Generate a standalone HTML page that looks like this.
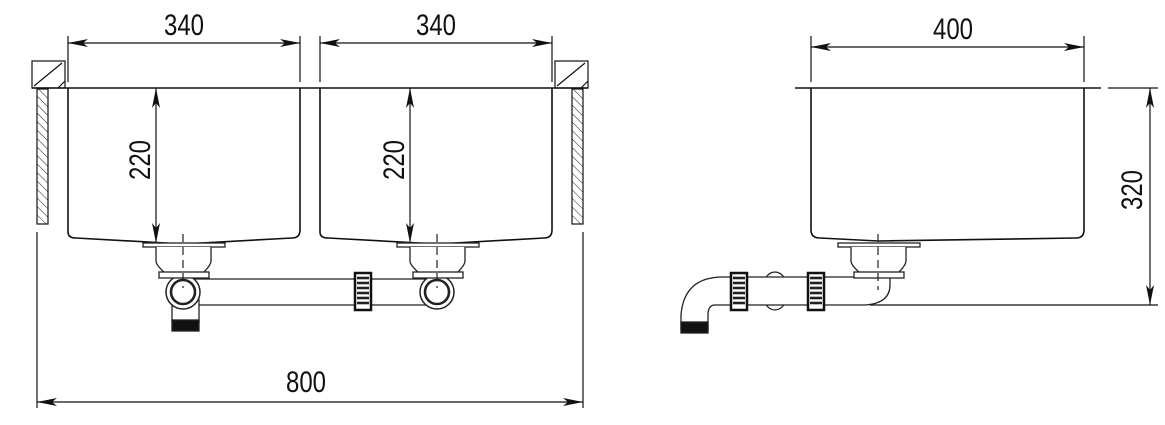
<!DOCTYPE html>
<html><head><meta charset="utf-8"><style>
html,body{margin:0;padding:0;background:#fff;}
svg{display:block;}
text{font-family:"Liberation Sans",sans-serif;font-size:30px;fill:#111;}
</style></head><body>
<svg width="1165" height="425" viewBox="0 0 1165 425" xmlns="http://www.w3.org/2000/svg">
<defs>
<pattern id="h" width="6" height="6" patternUnits="userSpaceOnUse" patternTransform="rotate(-45)">
<line x1="0" y1="0" x2="0" y2="6" stroke="#222" stroke-width="1"/>
</pattern>
<marker id="a" viewBox="0 0 20 8" refX="20" refY="4" markerWidth="20" markerHeight="8" markerUnits="userSpaceOnUse" orient="auto-start-reverse">
<path d="M0,0 L20,4 L0,8 L5,4 Z" fill="#111"/>
</marker>
<g id="drain">
<rect x="-40" y="0" width="82" height="4" fill="#fff" stroke="#222" stroke-width="1.3"/>
<path d="M-27,4 V18 Q-27,22 -18,30 H20 Q28,22 28,18 V4" fill="#fff" stroke="#222" stroke-width="1.3"/>
<rect x="-24" y="29" width="50" height="6" fill="#fff" stroke="#222" stroke-width="1.3"/>
</g>
<g id="nut">
<rect x="0" y="0" width="16" height="37" fill="#fff" stroke="#111" stroke-width="2.5"/>
<g stroke="#222" stroke-width="2.6">
<line x1="2" y1="5" x2="14" y2="5"/><line x1="2" y1="10" x2="14" y2="10"/><line x1="2" y1="15" x2="14" y2="15"/><line x1="2" y1="20" x2="14" y2="20"/><line x1="2" y1="25" x2="14" y2="25"/><line x1="2" y1="30" x2="14" y2="30"/>
</g>
</g>
</defs>
<g fill="none" stroke="#111" stroke-width="1.2">
<line x1="68" y1="36" x2="68" y2="82"/><line x1="300" y1="36" x2="300" y2="82"/>
<line x1="320" y1="36" x2="320" y2="82"/><line x1="552" y1="36" x2="552" y2="82"/>
<line x1="68" y1="43" x2="300" y2="43" marker-start="url(#a)" marker-end="url(#a)"/>
<line x1="320" y1="43" x2="552" y2="43" marker-start="url(#a)" marker-end="url(#a)"/>
<line x1="32" y1="88" x2="588" y2="88" stroke-width="1.5"/>
<rect x="32" y="61" width="33" height="27"/><line x1="34" y1="86" x2="62" y2="63"/><line x1="58" y1="88" x2="65" y2="81"/>
<rect x="555" y="61" width="33" height="27"/><line x1="557" y1="86" x2="585" y2="63"/><line x1="581" y1="88" x2="588" y2="81"/>
<rect x="37" y="89" width="11" height="135" fill="url(#h)"/>
<rect x="572" y="89" width="11" height="135" fill="url(#h)"/>
<path d="M68,88 V232 Q68,238 76,238 Q183,244 183,244 Q292,238 292,238 Q300,238 300,230 V88" stroke-width="1.6"/>
<path d="M320,88 V232 Q320,238 328,238 Q437,244 437,244 Q544,238 544,238 Q552,238 552,230 V88" stroke-width="1.6"/>
<line x1="156" y1="88" x2="156" y2="243" marker-start="url(#a)" marker-end="url(#a)"/>
<line x1="410" y1="88" x2="410" y2="243" marker-start="url(#a)" marker-end="url(#a)"/>
<line x1="37" y1="232" x2="37" y2="408"/><line x1="583" y1="232" x2="583" y2="408"/>
<line x1="37" y1="402" x2="583" y2="402" marker-start="url(#a)" marker-end="url(#a)"/>
</g>
<g fill="#fff" stroke="#222" stroke-width="1.3">
<path d="M183,279 H437 M183,305 H437"/>
<rect x="172" y="300" width="27" height="22"/>
<rect x="172" y="320" width="27" height="11" fill="#111"/>
<circle cx="183" cy="292" r="17" stroke-width="1.5"/><circle cx="183" cy="292" r="12" stroke-width="2.6"/>
<circle cx="437" cy="292" r="17" stroke-width="1.5"/><circle cx="437" cy="292" r="12" stroke-width="2.6"/>
</g>
<use href="#drain" x="183" y="243"/>
<use href="#drain" x="437" y="243"/>
<use href="#nut" x="355" y="273"/>
<g stroke="#222" stroke-width="1.2" stroke-dasharray="8,5"><line x1="183" y1="234" x2="183" y2="288"/><line x1="437" y1="234" x2="437" y2="288"/></g>
<g fill="none" stroke="#111" stroke-width="1.2">
<line x1="811" y1="36" x2="811" y2="82"/><line x1="1084" y1="36" x2="1084" y2="82"/>
<line x1="811" y1="47" x2="1084" y2="47" marker-start="url(#a)" marker-end="url(#a)"/>
<line x1="795" y1="88" x2="1101" y2="88" stroke-width="1.5"/>
<path d="M811,88 V230 Q811,238 820,238 L878,241 L1076,238 Q1084,238 1084,230 V88" stroke-width="1.6"/>
<line x1="1108" y1="88" x2="1158" y2="88"/>
<line x1="870" y1="305" x2="1158" y2="305"/>
<line x1="1150" y1="88" x2="1150" y2="305" marker-start="url(#a)" marker-end="url(#a)"/>
</g>
<g fill="#fff" stroke="#222" stroke-width="1.3">
<ellipse cx="775" cy="291" rx="13" ry="19"/>
<path d="M723,277 Q684,277 681,315 V330 H708 V315 Q708,305 715,305 H866 Q890,303 890,285 V277 Z"/>
<rect x="681" y="322" width="27" height="11" fill="#111"/>
</g>
<use href="#drain" x="878" y="243"/>
<use href="#nut" x="731" y="273"/>
<use href="#nut" x="808" y="273"/>
<line x1="878" y1="234" x2="878" y2="290" stroke="#222" stroke-width="1.2" stroke-dasharray="8,5"/>
<text transform="translate(184,35) scale(0.8,1)" text-anchor="middle">340</text>
<text transform="translate(436,35) scale(0.8,1)" text-anchor="middle">340</text>
<text transform="translate(953,39) scale(0.8,1)" text-anchor="middle">400</text>
<text transform="translate(306,392) scale(0.8,1)" text-anchor="middle">800</text>
<text transform="translate(150,160) rotate(-90) scale(0.8,1)" text-anchor="middle">220</text>
<text transform="translate(404,160) rotate(-90) scale(0.8,1)" text-anchor="middle">220</text>
<text transform="translate(1142,190) rotate(-90) scale(0.8,1)" text-anchor="middle">320</text>
</svg>
</body></html>
